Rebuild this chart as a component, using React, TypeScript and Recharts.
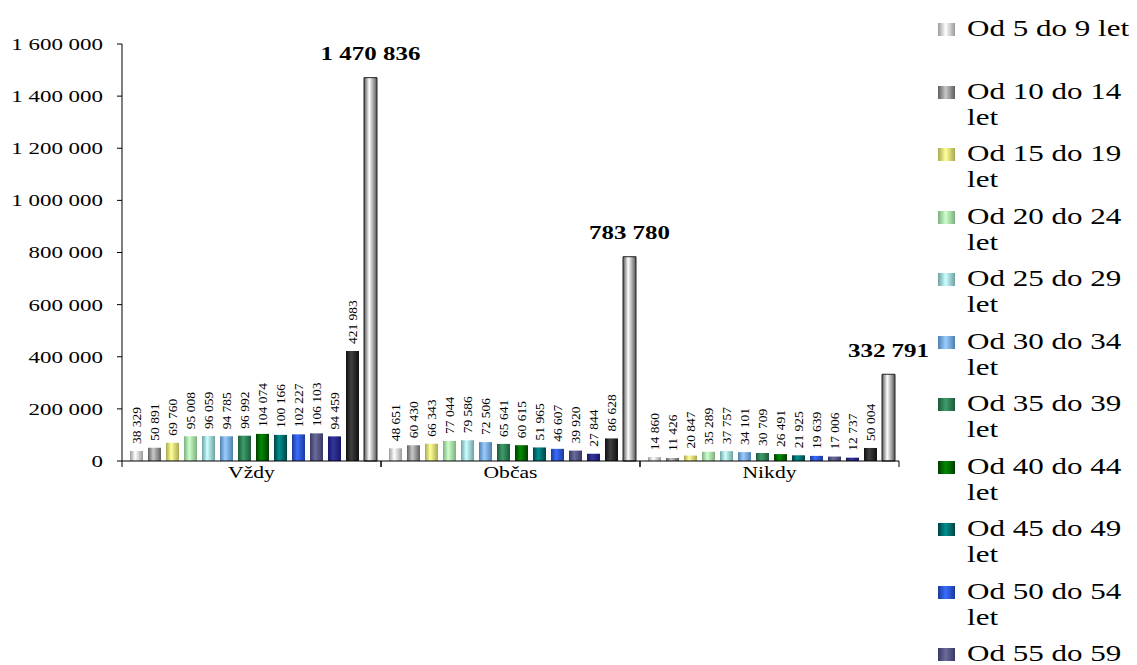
import { BarChart, Bar, XAxis, YAxis, LabelList } from "recharts";

// ---- data ----
const categories = ["Vždy", "Občas", "Nikdy"];

const ageGroups = [
  "Od 5 do 9 let",
  "Od 10 do 14 let",
  "Od 15 do 19 let",
  "Od 20 do 24 let",
  "Od 25 do 29 let",
  "Od 30 do 34 let",
  "Od 35 do 39 let",
  "Od 40 do 44 let",
  "Od 45 do 49 let",
  "Od 50 do 54 let",
  "Od 55 do 59 let",
  "Od 60 do 64 let",
  "65 let a více",
  "Celkem",
];

const od5do9 = [38329, 48651, 14860];
const od10do14 = [50891, 60430, 11426];
const od15do19 = [69760, 66343, 20847];
const od20do24 = [95008, 77044, 35289];
const od25do29 = [96059, 79586, 37757];
const od30do34 = [94785, 72506, 34101];
const od35do39 = [96992, 65641, 30709];
const od40do44 = [104074, 60615, 26491];
const od45do49 = [100166, 51965, 21925];
const od50do54 = [102227, 46607, 19639];
const od55do59 = [106103, 39920, 17006];
const od60do64 = [94459, 27844, 12737];
const od65 = [421983, 86628, 50004];
const celkem = [1470836, 783780, 332791];

const seriesValues = [
  od5do9, od10do14, od15do19, od20do24, od25do29, od30do34, od35do39,
  od40do44, od45do49, od50do54, od55do59, od60do64, od65, celkem,
];

const yTicks = [0, 200000, 400000, 600000, 800000, 1000000, 1200000, 1400000, 1600000];

// ---- styles ----
// [edge, highlight] for the cylinder-like horizontal gradient
const palette: [string, string][] = [
  ["#9a9a9a", "#ffffff"],
  ["#5e5e5e", "#c8c8c8"],
  ["#a8a850", "#ffff99"],
  ["#7eae7e", "#ccffcc"],
  ["#6ea0a0", "#ccffff"],
  ["#4d7fae", "#9cccff"],
  ["#1a5a3a", "#3f9c6c"],
  ["#003c00", "#008c00"],
  ["#004242", "#009090"],
  ["#1a3a9a", "#3a6cff"],
  ["#383864", "#6c6c9c"],
  ["#16166a", "#34349c"],
  ["#101010", "#404040"],
  ["#555555", "#ffffff"],
];

const FONT = "'Liberation Serif', 'Times New Roman', serif";
const S = 1.35; // horizontal stretch seen in the picture

const CHART_W = 940;
const Y_W = 122;
const M_RIGHT = 41;
const BAND = (CHART_W - Y_W - M_RIGHT) / categories.length;

const fmt = (v: number) => String(v).replace(/\B(?=(\d{3})+(?!\d))/g, " ");

const rows = categories.map((name, i) => {
  const row: Record<string, string | number> = { name };
  seriesValues.forEach((vals, j) => {
    row["s" + j] = vals[i];
  });
  return row;
});

// eslint-disable-next-line @typescript-eslint/no-explicit-any
const YTick = ({ x, y, payload }: any) => (
  <g transform={`translate(${x},${y}) scale(${S},1)`}>
    <text textAnchor="end" dy="0.35em" fontSize={17} fontFamily={FONT} fill="#000">
      {fmt(payload.value)}
    </text>
  </g>
);

// category label + tick marks on the band edges
// eslint-disable-next-line @typescript-eslint/no-explicit-any
const CatTick = ({ x, y, payload }: any) => {
  const y0 = Number(y) - 4;
  const l = Number(x) - BAND / 2;
  const r = Number(x) + BAND / 2;
  return (
    <g>
      <line x1={l} x2={l} y1={y0} y2={y0 + 6} stroke="#000" />
      <line x1={r} x2={r} y1={y0} y2={y0 + 6} stroke="#000" />
      <g transform={`translate(${x},${y}) scale(${S},1)`}>
        <text textAnchor="middle" dy={13} fontSize={16} fontFamily={FONT} fill="#000">
          {payload.value}
        </text>
      </g>
    </g>
  );
};

// eslint-disable-next-line @typescript-eslint/no-explicit-any
const RotLabel = (props: any) => {
  const { x, y, width, value } = props;
  const cx = Number(x) + Number(width) / 2 + 4.5;
  const ty = Number(y) - 7;
  return (
    <text
      x={cx}
      y={ty}
      transform={`rotate(-90 ${cx} ${ty})`}
      fontSize={13.5}
      fontFamily={FONT}
      fill="#000"
    >
      {fmt(value)}
    </text>
  );
};

// eslint-disable-next-line @typescript-eslint/no-explicit-any
const TotalLabel = (props: any) => {
  const { x, y, width, value } = props;
  const cx = Number(x) + Number(width) / 2;
  const ty = Number(y) - 17.5;
  return (
    <g transform={`translate(${cx},${ty}) scale(${S},1)`}>
      <text textAnchor="middle" fontSize={18.5} fontWeight="bold" fontFamily={FONT} fill="#000">
        {fmt(value)}
      </text>
    </g>
  );
};

const Legend = () => (
  <div style={{ position: "absolute", left: 0, top: 0 }}>
    {ageGroups.map((g, i) => {
      const base = 37 + i * 62.5;
      const [edge, hi] = palette[i];
      return (
        <div key={g}>
          <div
            style={{
              position: "absolute",
              left: 938,
              top: base - 14,
              width: 17,
              height: 13,
              background: `linear-gradient(to right, ${edge} 0%, ${hi} 45%, ${edge} 100%)`,
            }}
          />
          <div
            style={{
              position: "absolute",
              left: 967,
              top: base - 20.8,
              width: 128,
              fontFamily: FONT,
              fontSize: 23,
              lineHeight: "26px",
              color: "#000",
              transform: `scaleX(${S})`,
              transformOrigin: "left top",
            }}
          >
            {g}
          </div>
        </div>
      );
    })}
  </div>
);

export default function App() {
  return (
    <div
      style={{
        position: "fixed",
        left: 0,
        top: 0,
        width: 1137,
        height: 665,
        overflow: "hidden",
        background: "#fff",
      }}
    >
      <BarChart
        width={CHART_W}
        height={491}
        data={rows}
        margin={{ top: 44, right: M_RIGHT, left: 0, bottom: 0 }}
        barCategoryGap={8}
        barGap={5}
      >
        <defs>
          {palette.map(([edge, hi], i) => (
            <linearGradient key={i} id={"g" + i} x1="0" y1="0" x2="1" y2="0">
              <stop offset="0%" stopColor={edge} />
              <stop offset="40%" stopColor={hi} />
              <stop offset="100%" stopColor={edge} />
            </linearGradient>
          ))}
        </defs>
        <XAxis
          dataKey="name"
          tickLine={false}
          tickSize={0}
          tickMargin={4}
          axisLine={{ stroke: "#000" }}
          tick={<CatTick />}
          height={30}
        />
        <YAxis
          width={Y_W}
          domain={[0, 1600000]}
          ticks={yTicks}
          tickSize={5}
          tickMargin={14}
          axisLine={{ stroke: "#000" }}
          tickLine={{ stroke: "#000" }}
          tick={<YTick />}
          interval={0}
        />
        {ageGroups.map((g, j) => (
          <Bar
            key={g}
            dataKey={"s" + j}
            name={g}
            fill={`url(#g${j})`}
            stroke={j === 13 ? "#222" : "none"}
            strokeWidth={1}
            isAnimationActive={false}
          >
            <LabelList dataKey={"s" + j} content={j === 13 ? <TotalLabel /> : <RotLabel />} />
          </Bar>
        ))}
      </BarChart>
      <Legend />
    </div>
  );
}
